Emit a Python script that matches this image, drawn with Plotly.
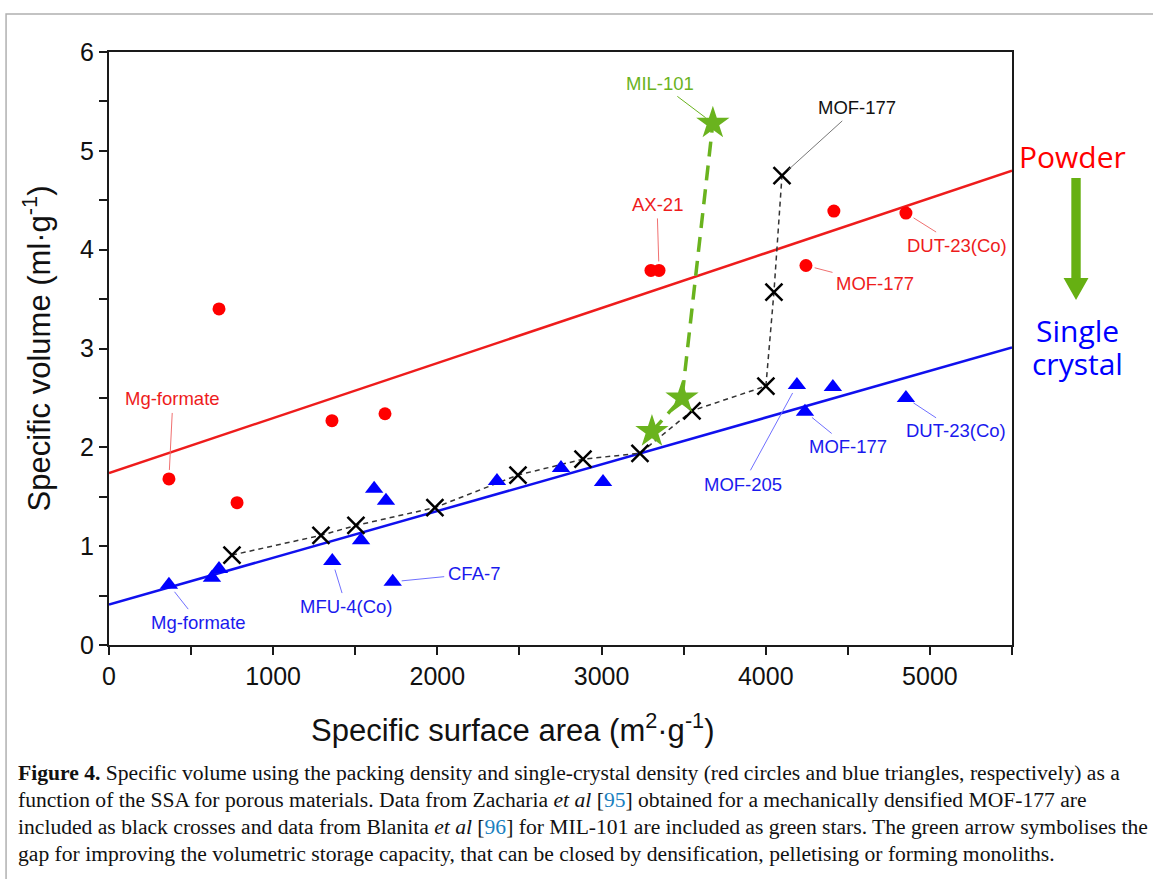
import plotly.graph_objects as go

# ---------------- data ----------------
powder_x = [365, 670, 780, 1358, 1681, 3301, 3350, 4245, 4415, 4854]
powder_y = [1.68, 3.40, 1.44, 2.27, 2.34, 3.79, 3.79, 3.84, 4.39, 4.37]

crystal_x = [365, 627, 670, 1360, 1535, 1615, 1687, 1728, 2363, 2753, 3009, 4190, 4239, 4409, 4854]
crystal_y = [0.61, 0.68, 0.77, 0.85, 1.06, 1.58, 1.46, 0.64, 1.66, 1.79, 1.65, 2.63, 2.36, 2.61, 2.50]

mof177_x = [749, 1291, 1504, 1985, 2491, 2887, 3234, 3551, 4001, 4050, 4099]
mof177_y = [0.91, 1.11, 1.21, 1.39, 1.72, 1.88, 1.94, 2.37, 2.62, 3.57, 4.75]

mil101_x = [3307, 3490, 3678]
mil101_y = [2.16, 2.50, 5.28]

fit_x = [0, 5500]
powder_fit_y = [1.74, 4.80]
crystal_fit_y = [0.41, 3.01]

x_ticks = [0, 1000, 2000, 3000, 4000, 5000]
y_ticks = [0, 1, 2, 3, 4, 5, 6]

RED = "#ff0000"
BLUE = "#0000ff"
GREEN = "#6ab31e"
SANS = "Liberation Sans, Arial, sans-serif"

fig = go.Figure()

fig.add_trace(go.Scatter(x=fit_x, y=powder_fit_y, mode="lines",
                         line=dict(color="#ee1c1c", width=2.5), showlegend=False))
fig.add_trace(go.Scatter(x=fit_x, y=crystal_fit_y, mode="lines",
                         line=dict(color="#1010ee", width=2.5), showlegend=False))
fig.add_trace(go.Scatter(x=mof177_x, y=mof177_y, mode="lines",
                         line=dict(color="#333333", width=1.5, dash="5px,4px"), showlegend=False))
fig.add_trace(go.Scatter(x=mil101_x, y=mil101_y, mode="lines",
                         line=dict(color=GREEN, width=3.5, dash="15px,9px"), showlegend=False))
fig.add_trace(go.Scatter(x=powder_x, y=powder_y, mode="markers",
                         marker=dict(symbol="circle", size=13, color=RED), showlegend=False))
fig.add_trace(go.Scatter(x=crystal_x, y=crystal_y, mode="markers",
                         marker=dict(symbol="triangle-up", size=16, color=BLUE), showlegend=False))
fig.add_trace(go.Scatter(x=mof177_x, y=mof177_y, mode="markers",
                         marker=dict(symbol="x-thin", size=17, line=dict(color="#000000", width=2.5)),
                         showlegend=False))
fig.add_trace(go.Scatter(x=mil101_x, y=mil101_y, mode="markers",
                         marker=dict(symbol="star", size=25, color=GREEN, line=dict(width=0)),
                         showlegend=False))

# ---------------- labels with leader lines ----------------
labels = [
    ("MIL-101", mil101_x, mil101_y, 2, -53, -40, "#6ab31e", "#6ab31e"),
    ("MOF-177", mof177_x, mof177_y, 10, 75, -68, "#111111", "#777777"),
    ("AX-21", powder_x, powder_y, 6, -2, -66, "#ee1c1c", "#f07070"),
    ("MOF-177", powder_x, powder_y, 7, 69, 18, "#ee1c1c", "#f07070"),
    ("DUT-23(Co)", powder_x, powder_y, 9, 51, 32, "#ee1c1c", "#f07070"),
    ("Mg-formate", powder_x, powder_y, 0, 4, -80, "#ee1c1c", "#f07070"),
    ("Mg-formate", crystal_x, crystal_y, 0, 30, 38, "#1a1aee", "#7070ff"),
    ("MFU-4(Co)", crystal_x, crystal_y, 3, 14, 46, "#1a1aee", "#7070ff"),
    ("CFA-7", crystal_x, crystal_y, 7, 81, -8, "#1a1aee", "#7070ff"),
    ("MOF-205", crystal_x, crystal_y, 11, -54, 99, "#1a1aee", "#7070ff"),
    ("MOF-177", crystal_x, crystal_y, 12, 43, 35, "#1a1aee", "#7070ff"),
    ("DUT-23(Co)", crystal_x, crystal_y, 14, 50, 33, "#1a1aee", "#7070ff"),
]
for text, xs, ys, i, ax, ay, tc, lc in labels:
    fig.add_annotation(x=xs[i], y=ys[i], text=text, showarrow=True, arrowhead=0,
                       arrowwidth=1, arrowcolor=lc, ax=ax, ay=ay, standoff=9, startstandoff=2,
                       font=dict(family=SANS, size=18.5, color=tc))

# ---------------- side texts and arrow ----------------
fig.add_annotation(xref="paper", yref="paper", x=1.0665, y=0.823, xanchor="center", yanchor="middle",
                   text="Powder", showarrow=False,
                   font=dict(family="Open Sans, sans-serif", size=30, color=RED))
fig.add_annotation(xref="paper", yref="paper", x=1.072, y=0.530, xanchor="center", yanchor="middle",
                   text="Single", showarrow=False,
                   font=dict(family="Open Sans, sans-serif", size=30, color=BLUE))
fig.add_annotation(xref="paper", yref="paper", x=1.072, y=0.474, xanchor="center", yanchor="middle",
                   text="crystal", showarrow=False,
                   font=dict(family="Open Sans, sans-serif", size=30, color=BLUE))

ax0 = 1.0709
sw = 0.0052
hw = 0.0138
y_top, y_head, y_tip = 0.7875, 0.6189, 0.5818
arrow_path = (f"M {ax0-sw},{y_top} L {ax0+sw},{y_top} L {ax0+sw},{y_head} L {ax0+hw},{y_head} "
              f"L {ax0},{y_tip} L {ax0-hw},{y_head} L {ax0-sw},{y_head} Z")
fig.add_shape(type="path", xref="paper", yref="paper", path=arrow_path,
              fillcolor="#66b012", line=dict(width=0))

# outer frame (gray)
fig.add_shape(type="path", xref="paper", yref="paper",
              path="M -0.114,-0.40 L -0.114,1.0641 L 1.17,1.0641",
              line=dict(color="#b0b0b0", width=1.5))

# x-axis title (offset left of plot centre as in the source)
fig.add_annotation(xref="paper", yref="paper", x=0.447, y=-0.140, xanchor="center", yanchor="middle",
                   text="Specific surface area (m<sup>2</sup>·g<sup>-1</sup>)", showarrow=False,
                   font=dict(family=SANS, size=31, color="#111111"))

# ---------------- caption ----------------
cap_lines = [
    "<b>Figure 4.</b> Specific volume using the packing density and single-crystal density (red circles and blue triangles, respectively) as a",
    "function of the SSA for porous materials. Data from Zacharia <i>et al</i> [<span style='color:#1a7fc0'>95</span>] obtained for a mechanically densified MOF-177 are",
    "included as black crosses and data from Blanita <i>et al</i> [<span style='color:#1a7fc0'>96</span>] for MIL-101 are included as green stars. The green arrow symbolises the",
    "gap for improving the volumetric storage capacity, that can be closed by densification, pelletising or forming monoliths.",
]
cap_y = [-0.2159, -0.2614, -0.3069, -0.3524]
for t, yy in zip(cap_lines, cap_y):
    fig.add_annotation(xref="paper", yref="paper", x=-0.1025, y=yy, xanchor="left", yanchor="middle",
                       text=t, showarrow=False,
                       font=dict(family="Liberation Serif, Times New Roman, serif", size=21.6, color="#111111"))

axis_common = dict(showline=True, linecolor="#1a1a1a", linewidth=2, mirror=True,
                   ticks="outside", ticklen=8, tickwidth=1.5, tickcolor="#1a1a1a",
                   showgrid=False, zeroline=False,
                   tickfont=dict(family=SANS, size=25, color="#111111"))

fig.update_xaxes(range=[0, 5500], tickvals=x_ticks,
                 minor=dict(dtick=500, tick0=0, ticks="outside", ticklen=8, tickcolor="#1a1a1a", tickwidth=1.5),
                 **axis_common)
fig.update_yaxes(range=[0, 6], tickvals=y_ticks,
                 minor=dict(dtick=0.5, tick0=0, ticks="outside", ticklen=8, tickcolor="#1a1a1a", tickwidth=1.5),
                 title=dict(text="Specific volume (ml·g<sup>-1</sup>)",
                            font=dict(family=SANS, size=31, color="#111111"), standoff=20),
                 **axis_common)

fig.update_layout(width=1153, height=879, margin=dict(l=109, r=141, t=52, b=234),
                  paper_bgcolor="white", plot_bgcolor="white", showlegend=False)

fig.write_html("out.html")
